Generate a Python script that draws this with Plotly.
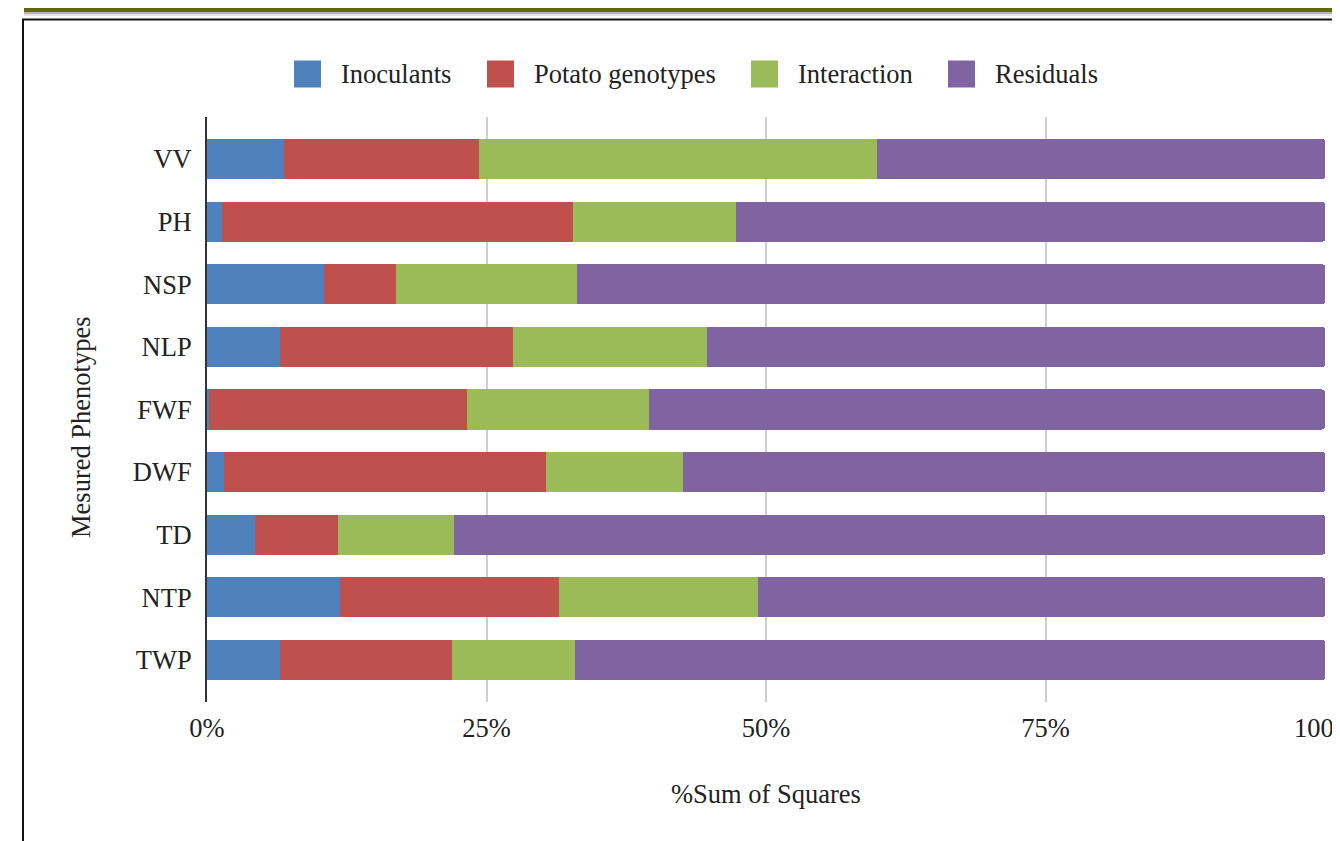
import plotly.graph_objects as go

# The page body adds an 8px margin, so the figure is laid out in page pixels minus 8.
OFF = 8
W, H = 1340 - OFF, 841 - OFF

phenotypes = ["VV", "PH", "NSP", "NLP", "FWF", "DWF", "TD", "NTP", "TWP"]
inoculants = [6.9, 1.3, 10.5, 6.5, 0.2, 1.5, 4.3, 11.9, 6.5]
potato_genotypes = [17.4, 31.4, 6.4, 20.9, 23.1, 28.8, 7.4, 19.6, 15.4]
interaction = [35.6, 14.6, 16.2, 17.3, 16.2, 12.3, 10.4, 17.8, 11.0]
residuals = [40.1, 52.7, 66.9, 55.3, 60.5, 57.4, 77.9, 50.7, 67.1]

series_names = ["Inoculants", "Potato genotypes", "Interaction", "Residuals"]
series_values = [inoculants, potato_genotypes, interaction, residuals]
series_colors = ["#4f81bd", "#c0504d", "#9bbb59", "#8064a2"]

x_tickvals = [0, 25, 50, 75, 100]
x_ticktext = ["0%", "25%", "50%", "75%", "100%"]

FONT = "Liberation Serif, Times New Roman, serif"
TXT = "#222222"
FS = 26.5

# plot area in page pixels
PX0, PX1 = 207, 1325
PY0, PY1 = 117, 702


def px(x):
    return (x - OFF) / W


def py(y):
    return 1 - (y - OFF) / H


fig = go.Figure()
for name, vals, col in zip(series_names, series_values, series_colors):
    fig.add_trace(go.Bar(
        y=phenotypes, x=vals, name=name, orientation="h",
        marker=dict(color=col, line=dict(width=0)),
        width=0.64, showlegend=False,
    ))

shapes = []
# olive band and shadow
shapes.append(dict(type="rect", xref="paper", yref="paper", x0=px(24), x1=px(1400), y0=py(OFF), y1=py(12),
                   fillcolor="#5e6a00", line=dict(width=0), layer="above"))
shapes.append(dict(type="rect", xref="paper", yref="paper", x0=px(24), x1=px(1400), y0=py(12), y1=py(14),
                   fillcolor="#b5b5b5", line=dict(width=0), layer="above"))
shapes.append(dict(type="rect", xref="paper", yref="paper", x0=px(24), x1=px(1400), y0=py(14), y1=py(16),
                   fillcolor="#e3e3e3", line=dict(width=0), layer="above"))
# box border
shapes.append(dict(type="rect", xref="paper", yref="paper", x0=px(23), x1=px(1400), y0=py(19.5), y1=py(900),
                   fillcolor="rgba(0,0,0,0)", line=dict(color="#111111", width=2), layer="above"))

annotations = []
legend_sq_x = [294, 487, 751, 948]
legend_txt_x = [339, 532, 796, 993]
LEG_Y = 74
for name, col, sx, tx in zip(series_names, series_colors, legend_sq_x, legend_txt_x):
    shapes.append(dict(type="rect", xref="paper", yref="paper", x0=px(sx), x1=px(sx + 27),
                       y0=py(LEG_Y - 13.5), y1=py(LEG_Y + 13.5),
                       fillcolor=col, line=dict(width=0), layer="above"))
    annotations.append(dict(text=name, xref="paper", yref="paper", x=px(tx), y=py(LEG_Y),
                            xanchor="left", yanchor="middle", showarrow=False,
                            font=dict(family=FONT, size=FS, color=TXT)))

annotations.append(dict(text="%Sum of Squares", xref="paper", yref="paper", x=px(766), y=py(794),
                        xanchor="center", yanchor="middle", showarrow=False,
                        font=dict(family=FONT, size=FS, color=TXT)))
annotations.append(dict(text="Mesured Phenotypes", xref="paper", yref="paper", x=px(81), y=py(427),
                        xanchor="center", yanchor="middle", showarrow=False, textangle=-90,
                        font=dict(family=FONT, size=FS, color=TXT)))

fig.update_layout(
    width=W, height=H, autosize=False,
    margin=dict(l=0, r=0, t=0, b=0, pad=0, autoexpand=False),
    paper_bgcolor="white", plot_bgcolor="white",
    barmode="stack", barcornerradius=3,
    showlegend=False,
    font=dict(family=FONT, size=FS, color=TXT),
    shapes=shapes, annotations=annotations,
    xaxis=dict(
        domain=[px(PX0), px(PX1)], range=[0, 100], automargin=False,
        tickvals=x_tickvals, ticktext=x_ticktext,
        showgrid=True, gridcolor="#cfcfcf", gridwidth=1.5,
        zeroline=False, showline=False, ticks="",
        ticklabelstandoff=7, ticklabeloverflow="allow",
        tickfont=dict(family=FONT, size=FS, color=TXT),
    ),
    yaxis=dict(
        domain=[py(PY1), py(PY0)], automargin=False,
        categoryorder="array", categoryarray=phenotypes[::-1],
        range=[-0.671, 8.671],
        showgrid=False, zeroline=False,
        showline=True, linecolor="#333333", linewidth=2,
        ticks="", ticklabelstandoff=8,
        tickfont=dict(family=FONT, size=FS, color=TXT),
    ),
)

fig.write_html("out.html")
